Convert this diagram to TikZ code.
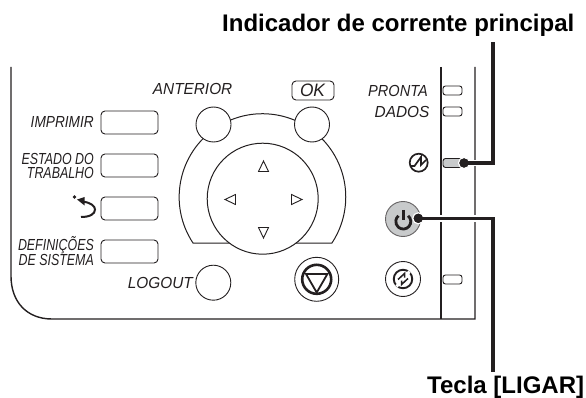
\documentclass[tikz,border=0pt]{standalone}
\usepackage{fontspec}
\setmainfont{Liberation Sans}
\newfontfamily\labA[FakeStretch=0.775]{Liberation Sans}
\newfontfamily\labB[FakeStretch=0.855]{Liberation Sans}
\newfontfamily\labC[FakeStretch=0.91]{Liberation Sans}
\newfontfamily\labD[FakeStretch=0.96]{Liberation Sans}
\usetikzlibrary{calc}
\definecolor{ink}{HTML}{231F20}
\definecolor{ledgray}{HTML}{C8CACB}
\tikzset{
  panel/.style={draw=ink,line width=1.4pt},
  thin line/.style={draw=ink,line width=1pt},
  softkey/.style={draw=ink,line width=.9pt,fill=white,rounded corners=4pt,minimum width=57pt,minimum height=23pt,inner sep=0pt,outer sep=0pt},
  led/.style={draw=ink,line width=.9pt,fill=white,rounded corners=2.5pt,minimum width=19pt,minimum height=9pt,inner sep=0pt,outer sep=0pt},
  roundkey/.style={circle,draw=ink,line width=.9pt,fill=white,minimum size=35pt,inner sep=0pt,outer sep=0pt},
  lab/.style={text=ink,inner sep=0pt,align=right},
  callout/.style={font=\bfseries\fontsize{24}{26}\selectfont,text=black,inner sep=0pt},
  leader/.style={draw=ink,line width=3.4pt},
  halo/.style={draw=white,line width=6.5pt},
  tri/.style={draw=ink,line width=.9pt,fill=white,line join=miter},
  dotmark/.style={circle,fill=ink,draw=white,line width=1.2pt,minimum size=11pt,inner sep=0pt,outer sep=0pt},
}
\newcommand{\lsz}{\itshape\fontsize{16}{14.6}\selectfont}
\begin{document}
\begin{tikzpicture}[x=1pt,y=-1pt]
\useasboundingbox (0,0) rectangle (586,398);
% panel
\draw[panel] (11,67) -- (11,276) .. controls (11,302) and (27,319) .. (52,319) -- (475,319) -- (475,67);
\draw[panel] (441,67) -- (441,319);
% left keys
\node[softkey] (k1) at (129.5,122.5) {};
\node[softkey] (k2) at (129.5,165.5) {};
\node[softkey] (k3) at (129.5,208.5) {};
\node[softkey] (k4) at (129.5,251.5) {};
\node[lab,anchor=east,font=\labB\lsz] (l1) at (94,122) {IMPRIMIR};
\node[lab,anchor=east,font=\labA\lsz] (l2) at (94,166) {ESTADO DO\\TRABALHO};
\node[lab,anchor=east,font=\labA\lsz] (l4) at (94,251) {DEFINIÇÕES\\DE SISTEMA};
% back icon
\fill[ink] (74.5,197) circle (1.9);
\draw[ink,line width=2pt] (82,201.5) .. controls (91,202.5) and (95,206) .. (95,209.5) .. controls (95,214) and (90,217) .. (81,217);
\fill[ink] (77,199.5) -- (84.5,197) -- (84.5,205.5) -- cycle;
% ring
\draw[thin line] (193,243) arc[start angle=146.5,end angle=393.5,radius=83.3] -- cycle;
\node[roundkey] (prev) at (213.5,124.5) {};
\node[roundkey] (ok) at (312,124.5) {};
\node[circle,draw=ink,line width=1pt,fill=white,minimum size=111pt,inner sep=0pt] (pad) at (262.7,198.7) {};
\draw[tri] (263.5,161) -- (258.5,171.5) -- (268.5,171.5) -- cycle;
\draw[tri] (263.5,238) -- (258.5,227.5) -- (268.5,227.5) -- cycle;
\draw[tri] (225,199.5) -- (235.5,194.5) -- (235.5,204.5) -- cycle;
\draw[tri] (302,199.5) -- (291.5,194.5) -- (291.5,204.5) -- cycle;
\node[lab,anchor=base east,font=\labD\lsz] (l5) at (232.5,95) {ANTERIOR};
\node[draw=ink,line width=.9pt,rounded corners=4pt,minimum width=42pt,minimum height=19pt,inner sep=0pt] (okbox) at (313,90.5) {};
\node[lab,anchor=center,font=\labD\itshape\fontsize{18}{18}\selectfont] (oklab) at (312.5,90.5) {OK};
% logout, stop
\node[roundkey] (logout) at (213.3,282.7) {};
\node[lab,anchor=east,font=\labD\lsz] (l6) at (193,283) {LOGOUT};
\node[circle,draw=ink,line width=.9pt,minimum size=44pt,inner sep=0pt] (stop) at (316.7,279.3) {};
\draw[ink,line width=2.6pt] (stop.center) circle (14.5);
\draw[ink,line width=1.8pt,line join=miter] (306,274) -- (327.4,274) -- (316.7,292.5) -- cycle;
% right labels and LEDs
\node[led] (d1) at (452.5,90.5) {};
\node[led] (d2) at (452.5,111.5) {};
\node[led] (d3) at (452.5,279.5) {};
\node[led,fill=ledgray] (d4) at (452.5,163) {};
\node[lab,anchor=east,font=\labC\lsz] (l7) at (428,91) {PRONTA};
\node[lab,anchor=east,font=\labD\lsz] (l8) at (429.5,112) {DADOS};
% main power icon
\node[circle,draw=ink,line width=1.7pt,minimum size=18pt,inner sep=0pt] (mp) at (418.7,162.7) {};
\draw[ink,line width=1.7pt,line join=miter] (410,166) -- (414.5,166) -- (421,157) -- (421,165) -- (426,160);
% power key
\node[roundkey,fill=ledgray,draw=ink!70] (pw) at (403,219) {};
\draw[ink,line width=2.8pt] (408.1,215.8) arc[start angle=310,end angle=590,radius=7.5];
\draw[ink,line width=2.8pt] (403.3,210) -- (403.3,220);
% eco key
\node[roundkey] (eco) at (403,279) {};
\node[circle,draw=ink,line width=1.9pt,minimum size=18.5pt,inner sep=0pt] (ecoin) at (403,279) {};
\draw[white,line width=3pt] (396.5,286.5) -- (409.5,271.5);
\draw[ink,line width=1.5pt,line join=miter] (398,279.5) -- (404.5,273.5) -- (404.5,277.5);
\draw[ink,line width=1.5pt,line join=miter] (408,278.5) -- (401.5,284.5) -- (401.5,280.5);
% leaders
\coordinate (t1) at (493,42);
\coordinate (c1) at (493,163);
\coordinate (c2) at (493,218.3);
\coordinate (t2) at (493,372);
\node[dotmark] (p1) at (464,163) {};
\node[dotmark] (p2) at (418.3,218.3) {};
\draw[halo] (p1) -- (c1);
\draw[halo] (p2) -- (c2);
\draw[leader,line join=miter] (p1.center) -- (c1) -- (t1);
\draw[leader,line join=miter] (p2.center) -- (c2) -- (t2);
\node[circle,fill=ink,minimum size=9pt,inner sep=0pt] (p1b) at (464,163) {};
\node[circle,fill=ink,minimum size=9pt,inner sep=0pt] (p2b) at (418.3,218.3) {};
% callouts
\node[callout,anchor=base west] (c1t) at (222,32) {Indicador de corrente principal};
\node[callout,anchor=base west] (c2t) at (427,393) {Tecla [LIGAR]};
\end{tikzpicture}
\end{document}
